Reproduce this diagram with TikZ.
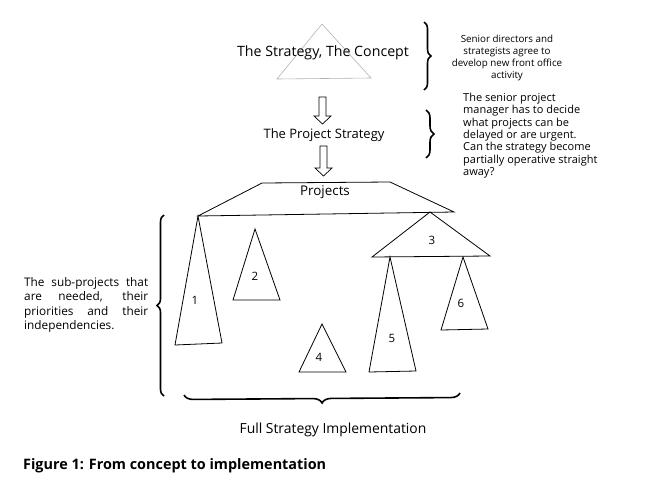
\documentclass[tikz,border=0pt]{standalone}
\usepackage{fontspec}
\setmainfont{Open Sans}
\usetikzlibrary{decorations.pathreplacing}

\begin{document}
\begin{tikzpicture}[
  x=1pt, y=-1pt,
  tri/.style={draw=black, line width=0.8pt},
  ghost/.style={draw=black!30, line width=0.6pt},
  blockarrow/.style={draw=black, line width=0.7pt, fill=white},
  curly/.style={decorate, decoration={brace, amplitude=#1}, line width=1.6pt},
  curly/.default=7pt,
  num/.style={font=\fontsize{11.5}{13}\selectfont, inner sep=0pt},
  title/.style={font=\fontsize{14.2}{16}\selectfont, inner sep=0pt},
  note/.style={font=\fontsize{9.8}{11.8}\selectfont, inner sep=0pt},
]
  \useasboundingbox (0,0) rectangle (655,501);

  % -- concept --
  \coordinate (ct) at (322,24);
  \coordinate (cl) at (277,79);
  \coordinate (cr) at (371,78);
  \draw[ghost] (ct) -- (cl) -- (cr) -- cycle;
  \node[title] (concept) at (323,53) {The Strategy, The Concept};

  \draw[curly=7pt] (424,22) -- (424,90);
  \node[note, align=center] (directors) at (507,58)
    {Senior directors and\\strategists agree to\\develop new front office\\activity};

  % -- block arrows --
  \draw[blockarrow] (319,97) -- (326,97) -- (326,116) -- (331,116) -- (322.5,124)
    -- (314,116) -- (319,116) -- cycle;
  \node[title, font=\fontsize{13}{15}\selectfont] (pstrategy) at (324,135) {The Project Strategy};
  \draw[blockarrow] (320,146) -- (327,146) -- (327,168) -- (332,168) -- (323.5,176)
    -- (315,168) -- (320,168) -- cycle;

  \draw[curly=8pt] (426,110) -- (426,158);
  \node[note, align=left, font=\fontsize{11}{12.3}\selectfont, anchor=north west] (manager) at (463,93)
    {The senior project\\manager has to decide\\what projects can be\\delayed or are urgent.\\Can the strategy become\\partially operative straight\\away?};

  % -- projects --
  \coordinate (pa) at (262,183);
  \coordinate (pb) at (390,182);
  \coordinate (pc) at (454,212);
  \coordinate (pd) at (198,216);
  \draw[tri] (pa) -- (pb) -- (pc) -- (pd) -- cycle;
  \node[title, font=\fontsize{13.4}{15}\selectfont] (projects) at (325,192) {Projects};

  % -- sub-projects --
  \draw[tri] (pd) -- (175,345) -- (222,343) -- cycle;
  \node[num] (n1) at (195,300) {1};
  \draw[tri] (255,229) -- (233,300) -- (280,300) -- cycle;
  \node[num] (n2) at (255,276) {2};
  \draw[tri] (430,212) -- (372,257) -- (490,256) -- cycle;
  \node[num] (n3) at (432,240) {3};
  \draw[tri] (322,324) -- (299,372) -- (346,372) -- cycle;
  \node[num] (n4) at (319,357) {4};
  \draw[tri] (390,257) -- (369,372) -- (416,371) -- cycle;
  \node[num] (n5) at (392,338) {5};
  \draw[tri] (463,257) -- (441,330) -- (488,329) -- cycle;
  \node[num] (n6) at (461,303) {6};

  % -- braces round the sub-projects --
  \draw[curly=7pt] (164,396) -- (164,215);
  \node[inner sep=0pt, anchor=west, align=left, font=\fontsize{11.8}{14.5}\selectfont] (subs) at (24,305)
    {\makebox[124pt][s]{The sub-projects that}\\\makebox[124pt][s]{are needed, their}\\
     \makebox[124pt][s]{priorities and their}\\independencies.};

  \draw[curly=9pt] (460,393) -- (184,395);
  \node[title, font=\fontsize{13.9}{16}\selectfont] (full) at (333,430) {Full Strategy Implementation};

  % -- caption --
  \node[inner sep=0pt, anchor=west, font=\fontsize{14.4}{16}\bfseries] (caption) at (23,466)
    {Figure 1: From concept to implementation};
\end{tikzpicture}
\end{document}
